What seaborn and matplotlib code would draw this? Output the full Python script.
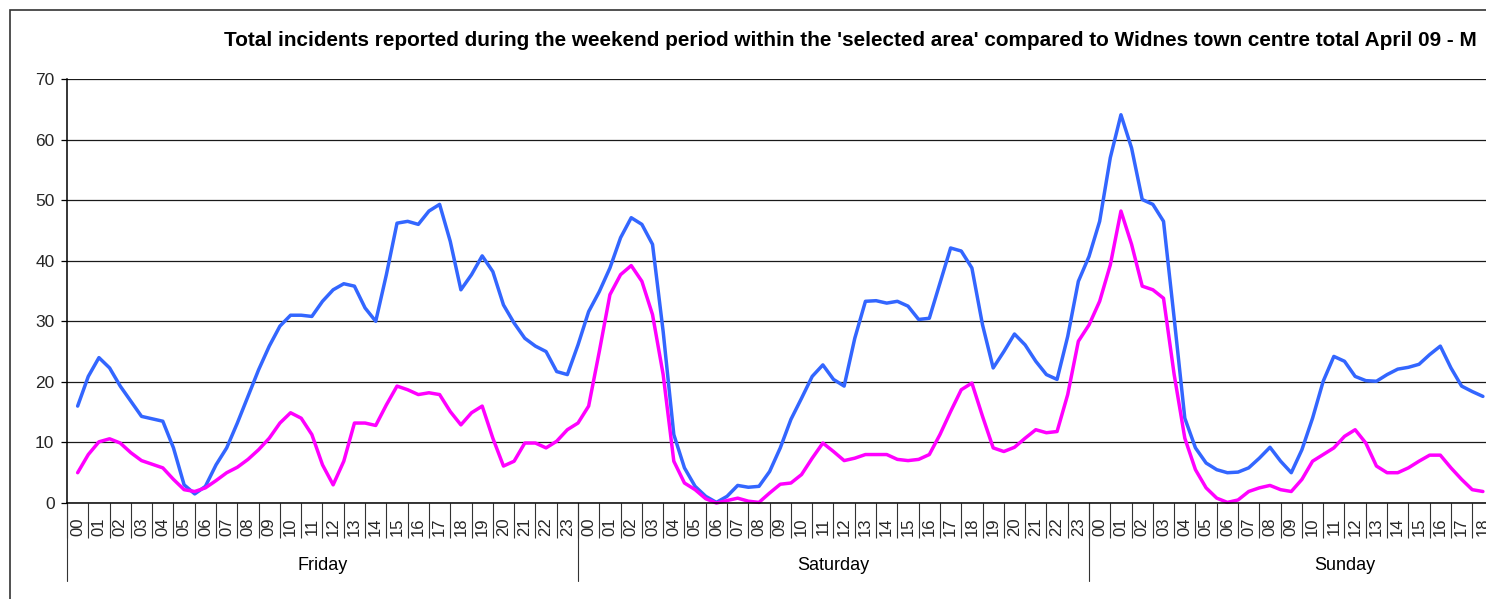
import numpy as np
import pandas as pd
import seaborn as sns
import matplotlib.pyplot as plt
from matplotlib.patches import Rectangle

hours = ['%02d' % h for h in range(24)]
days = ['Friday', 'Saturday', 'Sunday']
title = ("Total incidents reported during the weekend period within the 'selected area' "
         "compared to Widnes town centre total April 09 - M")

# half-hourly readings, Widnes town centre total (blue)
widnes_fri = [16.0, 20.9, 24.0, 22.3, 19.3, 16.8, 14.3, 13.9, 13.5, 9.1, 3.0, 1.5,
              2.75, 6.3, 9.1, 13.2, 17.6, 22.0, 25.9, 29.2, 31.0, 31.0, 30.8, 33.3,
              35.2, 36.2, 35.8, 32.2, 30.0, 37.7, 46.2, 46.5, 46.0, 48.2, 49.3, 43.2,
              35.2, 37.7, 40.8, 38.2, 32.7, 29.7, 27.2, 25.9, 25.0, 21.7, 21.2, 26.1]
widnes_sat = [31.6, 34.9, 38.8, 43.8, 47.1, 46.0, 42.7, 28.3, 11.3, 5.8, 2.75, 1.1,
              0.1, 1.1, 2.9, 2.6, 2.75, 5.2, 9.1, 13.8, 17.3, 20.9, 22.8, 20.4,
              19.3, 27.2, 33.3, 33.4, 33.0, 33.3, 32.5, 30.3, 30.5, 36.3, 42.1, 41.6,
              38.8, 29.4, 22.3, 25.0, 27.9, 26.1, 23.4, 21.2, 20.4, 27.5, 36.6, 40.7]
widnes_sun = [46.5, 57.0, 64.1, 58.6, 50.1, 49.3, 46.5, 30.5, 14.0, 9.1, 6.6, 5.5,
              5.0, 5.1, 5.8, 7.4, 9.2, 6.9, 5.0, 8.8, 14.0, 20.1, 24.2, 23.4,
              20.9, 20.2, 20.1, 21.2, 22.1, 22.4, 22.9, 24.5, 25.9, 22.3, 19.3, 18.4,
              17.6]

# half-hourly readings, selected area (magenta)
area_fri = [5.0, 8.0, 10.1, 10.6, 9.9, 8.3, 7.0, 6.4, 5.8, 3.9, 2.2, 1.9,
            2.5, 3.7, 5.0, 5.9, 7.2, 8.8, 10.7, 13.2, 14.9, 14.0, 11.3, 6.3,
            3.0, 6.9, 13.2, 13.2, 12.8, 16.2, 19.3, 18.7, 17.9, 18.2, 17.9, 15.1,
            12.9, 14.9, 16.0, 10.7, 6.1, 6.9, 9.9, 9.9, 9.1, 10.2, 12.1, 13.2]
area_sat = [16.0, 25.0, 34.4, 37.7, 39.2, 36.6, 31.1, 21.2, 6.9, 3.3, 2.2, 0.7,
            0.0, 0.4, 0.8, 0.3, 0.1, 1.65, 3.1, 3.3, 4.7, 7.4, 9.9, 8.5,
            7.0, 7.4, 8.0, 8.0, 8.0, 7.2, 7.0, 7.2, 8.0, 11.3, 15.1, 18.7,
            19.8, 14.3, 9.1, 8.5, 9.2, 10.7, 12.1, 11.6, 11.8, 17.9, 26.7, 29.4]
area_sun = [33.3, 39.3, 48.2, 42.7, 35.8, 35.2, 33.8, 21.2, 10.7, 5.5, 2.5, 0.8,
            0.1, 0.5, 1.9, 2.5, 2.9, 2.2, 1.9, 3.9, 6.9, 8.0, 9.1, 11.0,
            12.1, 9.9, 6.1, 5.0, 5.0, 5.8, 6.9, 7.9, 7.9, 5.8, 3.9, 2.2,
            1.9]

widnes = widnes_fri + widnes_sat + widnes_sun
area = area_fri + area_sat + area_sun
t = np.arange(len(widnes)) * 0.5

df = pd.concat([
    pd.DataFrame({'t': t, 'count': widnes, 'series': 'Widnes'}),
    pd.DataFrame({'t': t, 'count': area, 'series': 'Selected'}),
])

sns.set_style('white')
plt.rcParams['font.family'] = ['Liberation Sans', 'DejaVu Sans']
plt.rcParams['text.color'] = 'black'

W, H = 1486, 599
fig = plt.figure(figsize=(W / 100, H / 100), dpi=100)
cat = (578 - 67) / 24.0
ax = fig.add_axes([67 / W, (H - 503) / H, 72 * cat / W, 424 / H])

sns.lineplot(data=df, x='t', y='count', hue='series', hue_order=['Widnes', 'Selected'],
             palette={'Widnes': '#3366ff', 'Selected': '#ff00ff'},
             estimator=None, sort=False, legend=False, lw=2.5, ax=ax)
for ln in ax.lines:
    ln.set_clip_on(False)
    ln.set_solid_joinstyle('round')
    ln.set_solid_capstyle('round')

ax.set_xlim(-0.5, 71.5)
ax.set_ylim(0, 70)
ax.set_xlabel('')
ax.set_ylabel('')

# hour boundaries as major ticks, hour labels on minor ticks
ax.set_xticks(np.arange(-0.5, 72, 1))
ax.set_xticklabels([])
ax.set_xticks(np.arange(72), minor=True)
ax.set_xticklabels(hours * 3, minor=True, rotation=90, fontsize=12)
ax.tick_params(axis='x', which='major', bottom=True, length=25.2, width=0.8,
               color='#333333', direction='out')
ax.tick_params(axis='x', which='minor', bottom=True, length=0, pad=10.5)

ax.set_yticks(range(0, 71, 10))
ax.tick_params(axis='y', left=True, length=4, width=0.9, color='black',
               direction='out', pad=5, labelsize=12.5)
ax.yaxis.grid(True, color='#1a1a1a', lw=0.9)
ax.set_axisbelow(True)

sns.despine(ax=ax, top=True, right=True)
for s in ['left', 'bottom']:
    ax.spines[s].set_color('black')
    ax.spines[s].set_linewidth(1.1)

# day groups under the hour labels
tr = ax.get_xaxis_transform()
for i, day in enumerate(days):
    b = -0.5 + 24 * i
    ax.plot([b, b], [0, -78 / 424], transform=tr, clip_on=False, color='#333333', lw=0.8)
    ax.text(11.5 + 24 * i, -63 / 424, day, transform=tr, ha='center', va='center',
            fontsize=13)

fig.add_artist(Rectangle((10 / W, -0.1), 1.5, (H - 10) / H + 0.1,
                         transform=fig.transFigure, fill=False, ec='#333333', lw=1.2))
fig.text(224 / W, 1 - 41 / H, title, ha='left', va='center', fontsize=14.95,
         fontweight='bold')

fig.savefig('out.png', dpi=100, facecolor='white')
